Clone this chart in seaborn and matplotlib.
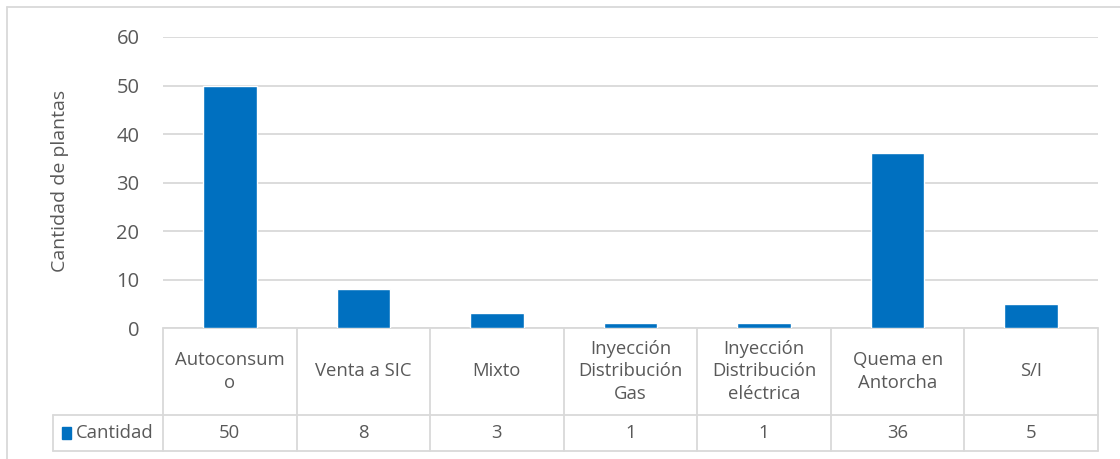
import matplotlib
matplotlib.use("Agg")
import matplotlib.pyplot as plt
import seaborn as sns
import pandas as pd
from matplotlib.patches import Rectangle

categories = ["Autoconsumo", "Venta a SIC", "Mixto", "Inyección Distribución Gas",
              "Inyección Distribución eléctrica", "Quema en Antorcha", "S/I"]
header_labels = ["Autoconsum\no", "Venta a SIC", "Mixto", "Inyección\nDistribución\nGas",
                 "Inyección\nDistribución\neléctrica", "Quema en\nAntorcha", "S/I"]
values = [50, 8, 3, 1, 1, 36, 5]
series_name = "Cantidad"
y_ticks = [0, 10, 20, 30, 40, 50, 60]

BLUE = "#0070C0"
TEXT = "#595959"
GRID = "#D9D9D9"
FONT = ["Open Sans", "DejaVu Sans"]

sns.set_theme(style="white")
plt.rcParams["font.family"] = FONT

W, H = 1120, 459
fig = plt.figure(figsize=(W / 100, H / 100), dpi=100)

# plot area in pixel geometry
left_px, right_px, top_px, base_px = 163, 1098, 37, 328
ax = fig.add_axes([left_px / W, 1 - base_px / H, (right_px - left_px) / W, (base_px - top_px) / H])

df = pd.DataFrame({"cat": categories, "val": values})
sns.barplot(data=df, x="cat", y="val", color=BLUE, width=0.4, saturation=1, ax=ax, zorder=3)

ax.set_xlim(-0.5, len(categories) - 0.5)
ax.set_ylim(0, 60)
ax.set_yticks(y_ticks)
ax.set_yticklabels([str(t) for t in y_ticks], color=TEXT, fontsize=14.5)
ax.tick_params(axis="y", length=0, pad=17)
ax.set_xticks([])
ax.set_xlabel("")
ax.set_ylabel("")
fig.text(60 / W, 1 - 181 / H, "Cantidad de plantas", rotation=90, ha="center", va="center",
         color=TEXT, fontsize=14)
ax.yaxis.grid(True, color=GRID, linewidth=1.3, zorder=0)
for s in ax.spines.values():
    s.set_visible(False)

# data table under the bars
ax_h = base_px - top_px
row1 = -(415 - base_px) / ax_h
row2 = -(451 - base_px) / ax_h
px_per_unit = (right_px - left_px) / len(categories)
legend_left = -0.5 - (left_px - 53) / px_per_unit
trans = ax.get_xaxis_transform()
line_kw = dict(color=GRID, linewidth=1.3, transform=trans, clip_on=False, zorder=1)

n = len(categories)
ax.plot([-0.5, n - 0.5], [0, 0], **line_kw)
ax.plot([legend_left, n - 0.5], [row1, row1], **line_kw)
ax.plot([legend_left, n - 0.5], [row2, row2], **line_kw)
ax.plot([legend_left, legend_left], [row1, row2], **line_kw)
for i in range(n + 1):
    ax.plot([i - 0.5, i - 0.5], [0, row2], **line_kw)

for i, (lab, v) in enumerate(zip(header_labels, values)):
    ax.text(i, row1 / 2, lab, transform=trans, ha="center", va="center",
            color=TEXT, fontsize=13.3, linespacing=1.3, clip_on=False)
    ax.text(i, (row1 + row2) / 2, str(v), transform=trans, ha="center", va="center",
            color=TEXT, fontsize=13.3, clip_on=False)

# legend key inside the table row
key_x = legend_left + 9 / px_per_unit
ax.add_patch(Rectangle((key_x, (row1 + row2) / 2 - 0.02), 9 / px_per_unit, 0.04,
                       transform=trans, color=BLUE, clip_on=False))
ax.text(key_x + 14 / px_per_unit, (row1 + row2) / 2, series_name, transform=trans,
        ha="left", va="center", color=TEXT, fontsize=13.3, clip_on=False)

# outer chart frame
fig.add_artist(plt.Line2D([7 / W, 7 / W], [0, 1 - 7 / H], color=GRID, linewidth=1.3))
fig.add_artist(plt.Line2D([7 / W, 1], [1 - 7 / H, 1 - 7 / H], color=GRID, linewidth=1.3))

fig.savefig("out.png", dpi=100)
